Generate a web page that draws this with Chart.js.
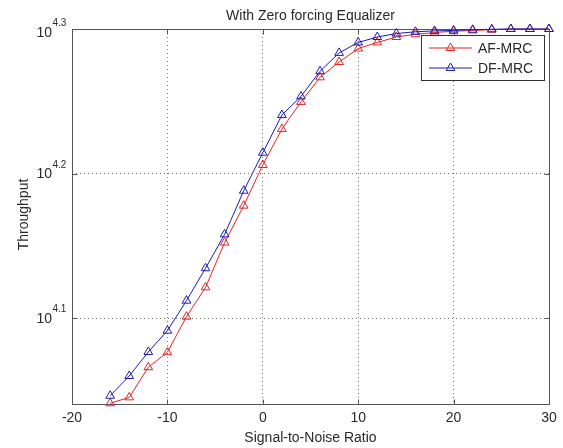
<!DOCTYPE html>
<html>
<head>
<meta charset="utf-8">
<script src="https://cdn.jsdelivr.net/npm/chart.js@4.4.0/dist/chart.umd.min.js"></script>
<style>
  html, body { margin: 0; padding: 0; background: #fff; }
  #wrap { width: 563px; height: 448px; position: relative; }
</style>
</head>
<body>
<div id="wrap"><canvas id="myChart"></canvas></div>
<script>
const snrValues = [-16, -14, -12, -10, -8, -6, -4, -2, 0, 2, 4, 6, 8, 10, 12, 14, 16, 18, 20, 22, 24, 26, 28, 30];
const afMrcThroughput = [10990, 11094, 11639, 11921, 12616, 13219, 14197, 15058, 16066, 17012, 17764, 18474,
    18931, 19341, 19529, 19700, 19786, 19841, 19882, 19907, 19930, 19953, 19953, 19953];
const dfMrcThroughput = [11122, 11478, 11926, 12337, 12942, 13628, 14385, 15420, 16383, 17396, 17920, 18654,
    19208, 19529, 19700, 19810, 19865, 19893, 19907, 19930, 19944, 19953, 19953, 19953];
const xTickValues = [-20, -10, 0, 10, 20, 30];
const yTickExponents = ['4.1', '4.2', '4.3'];
const yMin = 10977;
const yMax = 19953;

const seriesNames = ['AF-MRC', 'DF-MRC'];
const seriesColors = ['#e02424', '#1c1cb4'];

const fontName = '"Liberation Sans", Arial, sans-serif';
const textColor = '#2a2a2a';

function drawTriangle(ctx, x, y, r) {
    ctx.beginPath();
    for (let i = 0; i < 3; i++) {
        const a = i * 2 * Math.PI / 3;
        const px = x + Math.sin(a) * r;
        const py = y - Math.cos(a) * r;
        if (i === 0) ctx.moveTo(px, py); else ctx.lineTo(px, py);
    }
    ctx.closePath();
    ctx.stroke();
}

const decorPlugin = {
    id: 'decor',
    beforeDatasetsDraw(chart) {
        const { ctx, chartArea: a, scales: { x, y } } = chart;
        ctx.save();
        ctx.strokeStyle = '#555';
        ctx.lineWidth = 1;
        const l = Math.round(a.left) + 0.5, r = Math.round(a.right) + 0.5;
        const t = Math.round(a.top) + 0.5, b = Math.round(a.bottom) + 0.5;
        ctx.strokeRect(l, t, r - l, b - t);
        // small inward tick marks like matlab
        ctx.beginPath();
        xTickValues.forEach(v => {
            const px = Math.round(x.getPixelForValue(v)) + 0.5;
            ctx.moveTo(px, b); ctx.lineTo(px, b - 5);
            ctx.moveTo(px, t); ctx.lineTo(px, t + 5);
        });
        yTickExponents.forEach(e => {
            const py = Math.round(y.getPixelForValue(Math.pow(10, Number(e)))) + 0.5;
            ctx.moveTo(l, py); ctx.lineTo(l + 5, py);
            ctx.moveTo(r, py); ctx.lineTo(r - 5, py);
        });
        ctx.stroke();
        ctx.restore();
    },
    afterDraw(chart) {
        const { ctx, chartArea: a, scales: { x, y } } = chart;
        const midX = (a.left + a.right) / 2;
        ctx.save();
        ctx.fillStyle = textColor;

        // title
        ctx.font = '14px ' + fontName;
        ctx.textAlign = 'center';
        ctx.textBaseline = 'alphabetic';
        ctx.fillText('With Zero forcing Equalizer', midX, 20);

        // x tick labels
        xTickValues.forEach(v => {
            ctx.fillText(String(v), x.getPixelForValue(v), a.bottom + 18);
        });

        // x title
        ctx.fillText('Signal-to-Noise Ratio', midX, 442);

        // y title
        ctx.save();
        ctx.translate(28, (a.top + a.bottom) / 2 - 2);
        ctx.rotate(-Math.PI / 2);
        ctx.fillText('Throughput', 0, 0);
        ctx.restore();

        // y tick labels 10^e (top one pushed down a bit so the exponent fits)
        yTickExponents.forEach(e => {
            let py = y.getPixelForValue(Math.pow(10, Number(e)));
            if (py - a.top < 5) py = a.top + 3;
            ctx.font = '14px ' + fontName;
            ctx.textAlign = 'right';
            ctx.textBaseline = 'middle';
            ctx.fillText('10', 52, py + 1);
            ctx.font = '10px ' + fontName;
            ctx.textAlign = 'left';
            ctx.textBaseline = 'alphabetic';
            ctx.fillText(e, 52.5, py - 6);
        });

        // legend box
        const lx = 421.5, ly = 35.5, lw = 123, lh = 45;
        ctx.fillStyle = '#fff';
        ctx.fillRect(lx, ly, lw, lh);
        ctx.strokeStyle = '#333';
        ctx.lineWidth = 1;
        ctx.strokeRect(lx, ly, lw, lh);
        seriesNames.forEach((name, i) => {
            const ry = 48 + i * 20;
            ctx.strokeStyle = seriesColors[i];
            ctx.beginPath();
            ctx.moveTo(429, ry);
            ctx.lineTo(472, ry);
            ctx.stroke();
            drawTriangle(ctx, 450.5, ry, 5);
            ctx.fillStyle = textColor;
            ctx.font = '14px ' + fontName;
            ctx.textAlign = 'left';
            ctx.textBaseline = 'middle';
            ctx.fillText(name, 478, ry + 1);
        });
        ctx.restore();
    }
};

const ctx = document.getElementById('myChart').getContext('2d');
new Chart(ctx, {
    type: 'line',
    data: {
        labels: snrValues,
        datasets: [{
            label: seriesNames[0],
            data: snrValues.map((v, i) => ({ x: v, y: afMrcThroughput[i] })),
            borderColor: seriesColors[0],
            backgroundColor: 'rgba(0,0,0,0)',
            pointStyle: 'triangle',
            pointRadius: 5,
            pointBorderWidth: 1,
            borderWidth: 1,
            tension: 0,
            clip: false,
            order: 1
        }, {
            label: seriesNames[1],
            data: snrValues.map((v, i) => ({ x: v, y: dfMrcThroughput[i] })),
            borderColor: seriesColors[1],
            backgroundColor: 'rgba(0,0,0,0)',
            pointStyle: 'triangle',
            pointRadius: 5,
            pointBorderWidth: 1,
            borderWidth: 1,
            tension: 0,
            clip: false,
            order: 0
        }]
    },
    options: {
        responsive: true,
        maintainAspectRatio: false,
        animation: false,
        layout: {
            autoPadding: false,
            padding: { left: 72, top: 29, right: 14, bottom: 44 }
        },
        plugins: {
            legend: { display: false },
            title: { display: false },
            tooltip: { enabled: false }
        },
        scales: {
            x: {
                type: 'linear',
                min: -20,
                max: 30,
                ticks: { display: false, stepSize: 10 },
                afterBuildTicks: axis => { axis.ticks = xTickValues.map(v => ({ value: v })); },
                grid: { display: true, drawTicks: false, color: 'rgba(0,0,0,0.55)', lineWidth: 1 },
                border: { display: false, dash: [1, 3] }
            },
            y: {
                type: 'logarithmic',
                min: yMin,
                max: yMax,
                ticks: { display: false },
                afterBuildTicks: axis => {
                    axis.ticks = yTickExponents.map(e => ({ value: Math.pow(10, Number(e)) }));
                },
                grid: { display: true, drawTicks: false, color: 'rgba(0,0,0,0.55)', lineWidth: 1 },
                border: { display: false, dash: [1, 3] }
            }
        }
    },
    plugins: [decorPlugin]
});
</script>
</body>
</html>
